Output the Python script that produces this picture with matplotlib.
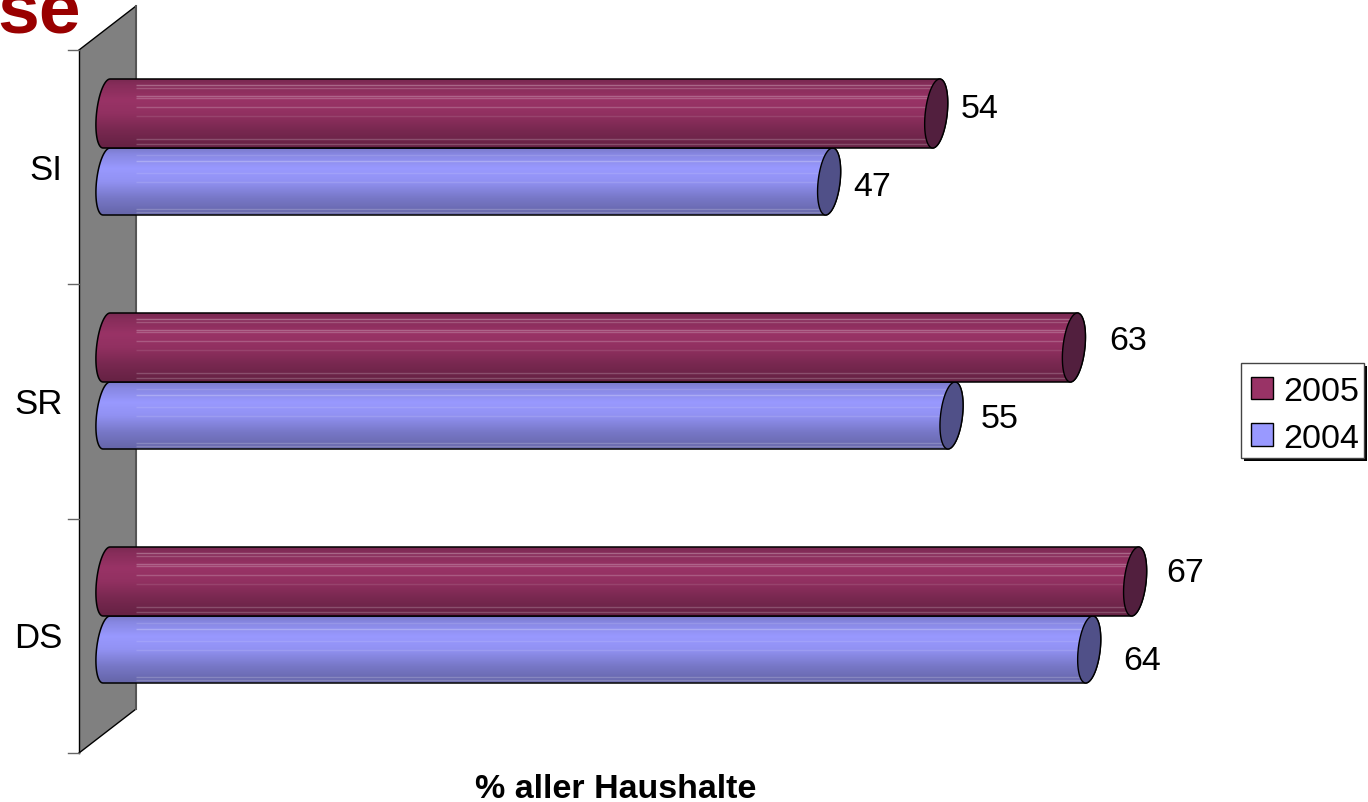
import numpy as np
import matplotlib
matplotlib.use("Agg")
import matplotlib.pyplot as plt
from matplotlib.patches import Polygon, Patch, Rectangle
from matplotlib.colors import to_rgb

plt.rcParams['font.family'] = ['Liberation Sans', 'DejaVu Sans']

categories = ["SI", "SR", "DS"]
years = ["2005", "2004"]
values_2005 = [54, 63, 67]
values_2004 = [47, 55, 64]

W, H = 1368, 803
PX_PER_UNIT = 15.3   # pixels per percent
X0 = 110             # pixel of 0 %
CAT_STEP = 234       # pixels between categories
Y0 = 149             # pixel of the first category centre

fig = plt.figure(figsize=(W / 100, H / 100), dpi=100)
ax = fig.add_axes([0, 0, 1, 1])
ax.set_xlim(-X0 / PX_PER_UNIT, (W - X0) / PX_PER_UNIT)
ax.set_ylim((H - Y0) / CAT_STEP, -Y0 / CAT_STEP)
ax.axis("off")


def px(p):
    return p / PX_PER_UNIT


def py(p):
    return p / CAT_STEP


def xp(p):
    return (p - X0) / PX_PER_UNIT


def yp(p):
    return (p - Y0) / CAT_STEP


# back wall of the 3d chart
wall = Polygon([(xp(79), yp(51)), (xp(136), yp(7)), (xp(136), yp(710)), (xp(79), yp(754))],
               closed=True, facecolor="#808080", edgecolor="none", zorder=1)
ax.add_patch(wall)
ax.plot([xp(79), xp(136)], [yp(51), yp(7)], color="black", lw=1, zorder=1.1)
ax.plot([xp(79), xp(136)], [yp(754), yp(710)], color="black", lw=1, zorder=1.1)
ax.plot([xp(79), xp(79)], [yp(51), yp(754)], color="black", lw=1, zorder=1.1)
ax.plot([xp(136), xp(136)], [yp(7), yp(710)], color="#555555", lw=1.5, zorder=1.1)
for k in [51, 285, 520, 754]:
    ax.plot([xp(68), xp(79)], [yp(k), yp(k)], color="#666666", lw=1, zorder=1.1)

# brightness down the tube
shade_pos = [0.00, 0.08, 0.30, 0.50, 0.75, 1.00]
shade_val = [0.80, 0.88, 1.00, 0.95, 0.78, 0.66]
streaks_2005 = [(0.09, 0.28), (0.126, 0.2), (0.24, 0.25), (0.28, 0.22), (0.40, 0.2), (0.53, 0.1), (0.87, 0.2), (0.94, 0.2)]
streaks_2004 = [(0.10, 0.12), (0.20, 0.25), (0.38, 0.12), (0.50, 0.12), (0.91, 0.2), (0.95, 0.2), (0.98, 0.2)]


def ellipse_arc(cx, mid, half_w, half_h, skew, start, stop, n=40):
    # leaning ellipse: its top sits skew to the right, its bottom skew to the left
    th = np.linspace(start, stop, n)
    return np.column_stack([cx + half_w * np.cos(th) - skew * np.sin(th), mid + half_h * np.sin(th)])


def cylinder(value, cat, top, bottom, colour, cap_colour, streaks, zorder):
    """One horizontal tube between category-relative pixel rows top and bottom."""
    t = cat + py(top)
    b = cat + py(bottom)
    mid = (t + b) / 2
    half_h = (b - t) / 2
    skew = px(3.5)
    cap_w = px(11)
    left = px(-3.5)
    left_w = px(10)

    right_arc = ellipse_arc(value, mid, cap_w, half_h, skew, -np.pi / 2, np.pi / 2)
    left_arc = ellipse_arc(left, mid, left_w, half_h, skew, np.pi / 2, 3 * np.pi / 2)
    outline = Polygon(np.vstack([right_arc, left_arc]), closed=True, facecolor="none",
                      edgecolor="black", lw=1.1, zorder=zorder + 0.2)
    ax.add_patch(outline)

    rows = np.linspace(0, 1, 70)
    grad = np.interp(rows, shade_pos, shade_val)[:, None, None] * np.array(to_rgb(colour))[None, None, :]
    im = ax.imshow(np.clip(grad, 0, 1), extent=(left - left_w - skew, value + cap_w + skew, b, t),
                   aspect="auto", interpolation="bilinear", zorder=zorder)
    im.set_clip_path(outline)

    # lighter bands on the tube, starting at the wall edge
    for s, alpha in streaks:
        y = t + (b - t) * s
        ax.plot([xp(136), value], [y, y], color="white", lw=1.0, alpha=alpha,
                solid_capstyle="butt", zorder=zorder + 0.1)

    cap = Polygon(ellipse_arc(value, mid, cap_w, half_h, skew, 0, 2 * np.pi, 80), closed=True,
                  facecolor=cap_colour, edgecolor="black", lw=1, zorder=zorder + 0.3)
    ax.add_patch(cap)


for i, cat in enumerate(categories):
    cylinder(values_2004[i], i, 0, 67, "#9999FF", "#505088", streaks_2004, 3)
    cylinder(values_2005[i], i, -69, 0, "#993366", "#521F3E", streaks_2005, 4)

label_x_2005 = [980, 1128, 1185]
label_y_2005 = [109, 341, 573]
label_x_2004 = [872, 1000, 1142]
label_y_2004 = [187, 420, 662]
for i in range(3):
    ax.text(xp(label_x_2005[i]), yp(label_y_2005[i]), str(values_2005[i]), fontsize=24.5,
            ha="center", va="center", color="black", zorder=6)
    ax.text(xp(label_x_2004[i]), yp(label_y_2004[i]), str(values_2004[i]), fontsize=24.5,
            ha="center", va="center", color="black", zorder=6)

# category labels sit left of the wall
for i, cat in enumerate(categories):
    ax.text(xp(62.5), i + py(22), cat, fontsize=25, ha="right", va="center", color="black")

ax.text(xp(616), yp(790), "% aller Haushalte", fontsize=24.5, fontweight="bold",
        ha="center", va="center", color="black")

# remainder of the slide heading, cut off by the top edge
ax.text(xp(-3), yp(34), "se", fontsize=54, fontweight="bold", ha="left", va="baseline",
        color="#990000", clip_on=True)

# legend frame and its drop shadow are separate so the entries can sit off-centre
ax.add_patch(Rectangle((xp(1244), yp(367)), px(123), py(95), facecolor="black", edgecolor="none", zorder=7))
ax.add_patch(Rectangle((xp(1241), yp(364)), px(123), py(95), facecolor="white", edgecolor="#444444",
                       lw=1, zorder=7.1))

handles = [Patch(facecolor="#993366", edgecolor="black", label=years[0]),
           Patch(facecolor="#9999FF", edgecolor="black", label=years[1])]
leg = fig.legend(handles=handles, loc="upper left", bbox_to_anchor=(1251 / W, 1 - 377 / H),
                 fontsize=24.5, frameon=False, handlelength=0.65, handleheight=0.65,
                 handletextpad=0.3, borderpad=0, labelspacing=0.46, borderaxespad=0)
leg.set_zorder(8)

fig.savefig("out.png", dpi=100)
